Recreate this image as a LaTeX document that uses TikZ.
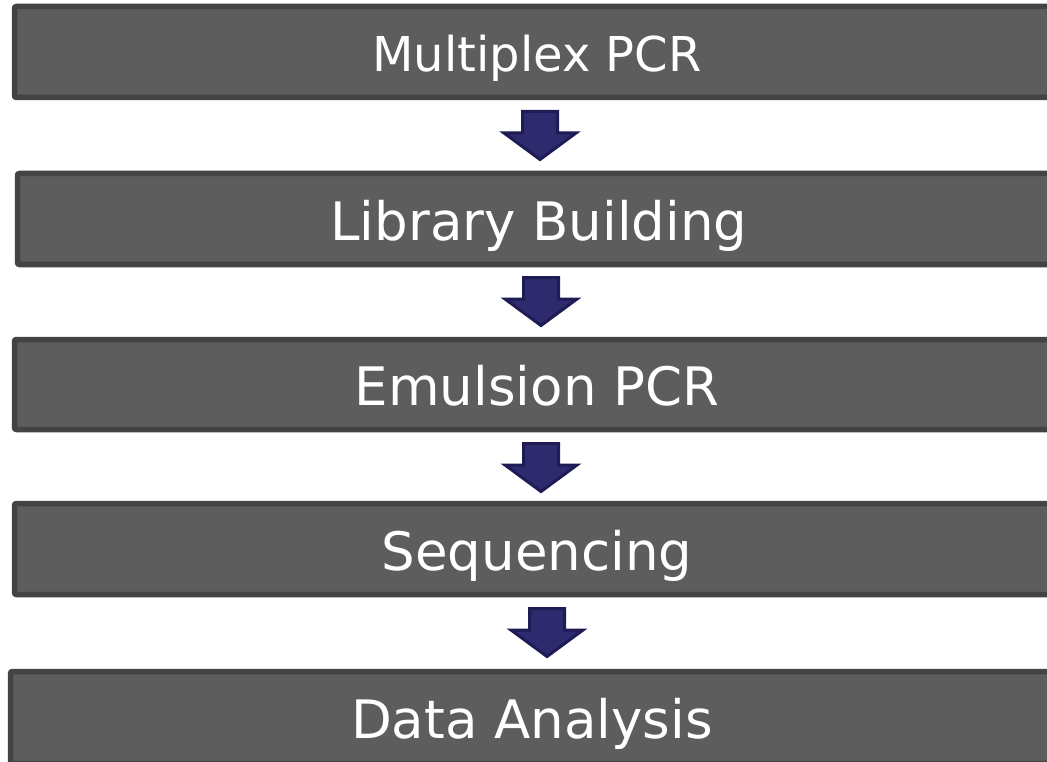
\documentclass[tikz,border=0pt]{standalone}
\usepackage{fontspec}
\setmainfont{DejaVu Sans}
\usetikzlibrary{calc}
\definecolor{boxfill}{HTML}{5D5D5D}
\definecolor{boxline}{HTML}{434343}
\definecolor{arrfill}{HTML}{2E2A6E}
\definecolor{arrline}{HTML}{1F1B55}
\tikzset{
  stepbox/.style={draw=boxline, fill=boxfill, line width=5.5pt, rounded corners=2pt,
    text=white, inner sep=0pt, text depth=0pt},
  bigtext/.style={font=\fontsize{53}{60}\selectfont, text height=42.5pt},
  smalltext/.style={font=\fontsize{48}{56}\selectfont, text height=38.5pt},
  blockarr/.style={fill=arrfill, draw=arrline, line width=3pt, line join=miter}
}
\newcommand\blockarrow[3]{% name, centre x, top y
  \coordinate (#1) at (#2,#3);
  \draw[blockarr] ($(#1)+(-17.5,1.5)$) -- ($(#1)+(17.5,1.5)$) -- ($(#1)+(17.5,23)$) -- ($(#1)+(36,23)$)
    -- ($(#1)+(0,49.5)$) -- ($(#1)+(-36,23)$) -- ($(#1)+(-17.5,23)$) -- cycle;
}
\begin{document}
\begin{tikzpicture}[x=1pt,y=-1pt]
\clip (0,0) rectangle (1047,762);
\fill[white] (0,0) rectangle (1047,762);
\node[stepbox, smalltext, minimum width=1045pt, minimum height=91pt] (b1) at (537,52) {Multiplex PCR};
\node[stepbox, bigtext, minimum width=1043pt, minimum height=91pt] (b2) at (539,219) {Library Building};
\node[stepbox, bigtext, minimum width=1045pt, minimum height=90pt] (b3) at (537,384.5) {Emulsion PCR};
\node[stepbox, bigtext, minimum width=1045pt, minimum height=91pt] (b4) at (537,549) {Sequencing};
\node[stepbox, bigtext, minimum width=1043pt, minimum height=92pt] (b5) at (532,717.5) {Data Analysis};
\blockarrow{a1}{540}{110}
\blockarrow{a2}{541}{276}
\blockarrow{a3}{541}{442}
\blockarrow{a4}{547}{607}
\end{tikzpicture}
\end{document}
